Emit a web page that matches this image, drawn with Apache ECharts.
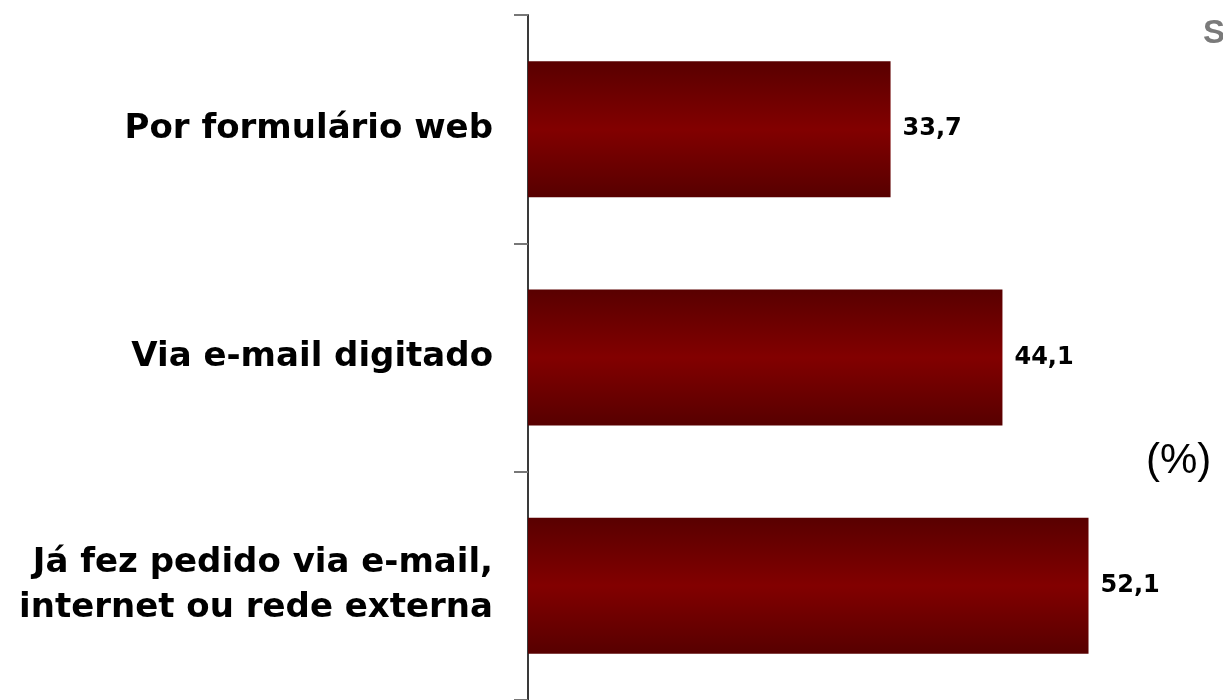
<!DOCTYPE html>
<html>
<head>
<meta charset="utf-8">
<script src="https://cdn.jsdelivr.net/npm/echarts@6/dist/echarts.min.js"></script>
<style>
html,body{margin:0;padding:0;background:#fff;}
#c{width:1223px;height:700px;}
</style>
</head>
<body>
<div id="c"></div>
<script>
const categories = ["Por formulário web", "Via e-mail digitado", "Já fez pedido via e-mail,\ninternet ou rede externa"];
const values = [33.7, 44.1, 52.1];
const unitLabel = "(%)";
const cornerLabel = "S";

const chart = echarts.init(document.getElementById('c'), null, {renderer: 'canvas'});
const barGradient = new echarts.graphic.LinearGradient(0, 0, 0, 1, [
  {offset: 0, color: '#590000'},
  {offset: 0.5, color: '#820000'},
  {offset: 1, color: '#570000'}
]);
chart.setOption({
  animation: false,
  backgroundColor: '#ffffff',
  grid: {left: 528, right: 0, top: 15, bottom: -1, containLabel: false},
  xAxis: {type: 'value', min: 0, max: 64.6, show: false},
  yAxis: {
    type: 'category',
    inverse: true,
    data: categories,
    axisLine: {show: true, lineStyle: {color: '#3a3a3a', width: 2}},
    axisTick: {show: true, length: 14, lineStyle: {color: '#777', width: 2}},
    axisLabel: {
      margin: 35,
      color: '#000',
      fontFamily: 'DejaVu Sans',
      fontWeight: 'bold',
      fontSize: 34,
      lineHeight: 45,
      align: 'right'
    },
    splitLine: {show: false}
  },
  series: [{
    type: 'bar',
    data: values,
    barWidth: 136,
    itemStyle: {color: barGradient},
    label: {
      show: true,
      position: 'right',
      distance: 12,
      color: '#000',
      fontFamily: 'DejaVu Sans',
      fontWeight: 'bold',
      fontSize: 24,
      formatter: p => String(p.value).replace('.', ',')
    }
  }],
  graphic: [
    {type: 'text', left: 1146, top: 440, style: {text: unitLabel, font: '42px "Liberation Sans"', fill: '#000'}},
    {type: 'text', left: 1203, top: 17, style: {text: cornerLabel, font: 'bold 33px "Liberation Sans"', fill: '#7a7a7a'}}
  ]
});
</script>
</body>
</html>
